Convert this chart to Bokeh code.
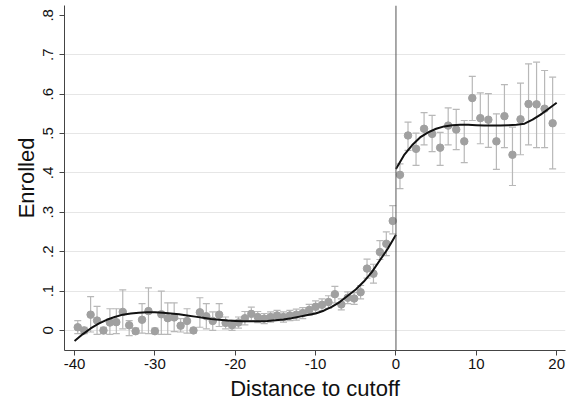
from bokeh.plotting import figure
from bokeh.models import Range1d, FixedTicker, Span, Whisker, TeeHead, ColumnDataSource
from bokeh.embed import file_html
from bokeh.resources import INLINE

# ---- data ----
left_x = [-39.6, -38.8, -38.0, -37.2, -36.4, -35.6, -34.8, -34.0, -33.2, -32.4,
          -31.6, -30.8, -30.0, -29.2, -28.4, -27.6, -26.8, -26.0, -25.2, -24.4,
          -23.6, -22.8, -22.0, -21.2, -20.4, -19.6, -18.8, -18.0, -17.2, -16.4,
          -15.6, -14.8, -14.0, -13.2, -12.4, -11.6, -10.8, -10.0, -9.2, -8.4,
          -7.6, -6.8, -6.0, -5.2, -4.4, -3.6, -2.8, -2.0, -1.2, -0.4]
left_y = [0.008, 0.000, 0.040, 0.025, 0.000, 0.020, 0.021, 0.047, 0.013, -0.002,
          0.027, 0.049, -0.002, 0.041, 0.031, 0.033, 0.012, 0.024, 0.000, 0.046,
          0.036, 0.024, 0.040, 0.019, 0.013, 0.020, 0.031, 0.042, 0.034, 0.030,
          0.034, 0.038, 0.034, 0.038, 0.040, 0.044, 0.052, 0.060, 0.065, 0.072,
          0.092, 0.066, 0.083, 0.081, 0.097, 0.157, 0.144, 0.199, 0.220, 0.278]
left_lo = [-0.008, -0.008, -0.004, -0.010, -0.008, -0.010, -0.008, 0.004, -0.013, -0.008,
           -0.007, -0.008, -0.008, -0.010, -0.010, -0.003, -0.004, -0.007, -0.006, 0.008,
           0.004, 0.000, 0.010, 0.004, 0.000, 0.006, 0.014, 0.025, 0.020, 0.017,
           0.021, 0.025, 0.021, 0.025, 0.026, 0.030, 0.038, 0.045, 0.050, 0.056,
           0.070, 0.052, 0.068, 0.066, 0.080, 0.133, 0.120, 0.180, 0.190, 0.245]
left_hi = [0.025, 0.008, 0.086, 0.061, 0.008, 0.055, 0.055, 0.103, 0.025, 0.006,
           0.068, 0.108, 0.006, 0.100, 0.070, 0.070, 0.030, 0.055, 0.006, 0.083,
           0.068, 0.047, 0.068, 0.034, 0.026, 0.034, 0.048, 0.059, 0.048, 0.043,
           0.047, 0.051, 0.047, 0.051, 0.054, 0.058, 0.066, 0.075, 0.080, 0.088,
           0.112, 0.080, 0.098, 0.096, 0.114, 0.181, 0.168, 0.228, 0.250, 0.317]

right_x = [0.5, 1.5, 2.5, 3.5, 4.5, 5.5, 6.5, 7.5, 8.5, 9.5,
           10.5, 11.5, 12.5, 13.5, 14.5, 15.5, 16.5, 17.5, 18.5, 19.5]
right_y = [0.395, 0.495, 0.461, 0.512, 0.499, 0.464, 0.520, 0.510, 0.480, 0.590,
           0.539, 0.535, 0.480, 0.544, 0.446, 0.536, 0.575, 0.574, 0.563, 0.526]
right_lo = [0.360, 0.457, 0.419, 0.471, 0.454, 0.419, 0.471, 0.459, 0.426, 0.533,
            0.474, 0.465, 0.409, 0.464, 0.368, 0.446, 0.471, 0.464, 0.464, 0.410]
right_hi = [0.423, 0.529, 0.501, 0.553, 0.546, 0.503, 0.565, 0.561, 0.533, 0.645,
            0.603, 0.601, 0.550, 0.624, 0.516, 0.628, 0.677, 0.681, 0.660, 0.643]

fit_left_x = [-40, -39, -38, -37, -36, -35, -34, -33, -32, -31, -30, -29, -28, -27,
              -26, -25, -24, -23, -22, -21, -20, -19, -18, -17, -16, -15, -14, -13,
              -12, -11, -10, -9, -8, -7, -6, -5, -4, -3, -2, -1, 0]
fit_left_y = [-0.027, -0.010, 0.005, 0.017, 0.027, 0.034, 0.040, 0.043, 0.045, 0.046,
              0.046, 0.045, 0.043, 0.041, 0.038, 0.035, 0.032, 0.029, 0.027, 0.025,
              0.024, 0.023, 0.023, 0.023, 0.024, 0.026, 0.028, 0.031, 0.035, 0.039,
              0.043, 0.050, 0.060, 0.072, 0.088, 0.104, 0.124, 0.148, 0.178, 0.208, 0.243]
fit_right_x = [0, 1, 2, 3, 4, 5, 6, 7, 8, 9, 10, 11, 12, 13, 14, 15, 16, 17, 18, 19, 20]
fit_right_y = [0.410, 0.445, 0.470, 0.490, 0.503, 0.512, 0.518, 0.521, 0.522, 0.522,
               0.521, 0.520, 0.520, 0.520, 0.521, 0.522, 0.525, 0.535, 0.548, 0.563, 0.578]

x_ticks = [-40, -30, -20, -10, 0, 10, 20]
x_tick_labels = ["-40", "-30", "-20", "-10", "0", "10", "20"]
y_ticks = [0, 0.1, 0.2, 0.3, 0.4, 0.5, 0.6, 0.7, 0.8]
y_tick_labels = ["0", ".1", ".2", ".3", ".4", ".5", ".6", ".7", ".8"]
y_grid = [0, 0.1, 0.2, 0.3, 0.4, 0.5, 0.6, 0.7]
cutoff = 0

FONT = "Liberation Sans"
PT_COLOR = "#a0a0a0"
BAR_COLOR = "#b8b8b8"

p = figure(width=567, height=406, output_backend="svg", toolbar_location=None,
           x_range=Range1d(-41.25, 21.1), y_range=Range1d(-0.051, 0.825))
p.min_border_left = 64
p.min_border_right = 2
p.min_border_top = 5
p.min_border_bottom = 56
p.outline_line_color = None
p.background_fill_color = "white"
p.border_fill_color = "white"

p.xgrid.visible = False
p.ygrid.ticker = FixedTicker(ticks=y_grid)
p.ygrid.grid_line_color = "#e6e6e6"
p.ygrid.grid_line_width = 1

p.xaxis.ticker = FixedTicker(ticks=x_ticks)
p.xaxis.major_label_overrides = {t: l for t, l in zip(x_ticks, x_tick_labels)}
p.yaxis.ticker = FixedTicker(ticks=y_ticks)
p.yaxis.major_label_overrides = {t: l for t, l in zip(y_ticks, y_tick_labels)}
p.yaxis.major_label_orientation = "vertical"
for ax in (p.xaxis, p.yaxis):
    ax.axis_line_color = "#444444"
    ax.major_tick_line_color = "#444444"
    ax.major_tick_out = 5
    ax.major_tick_in = 0
    ax.minor_tick_line_color = None
    ax.major_label_text_font = FONT
    ax.major_label_text_font_size = "15px"
    ax.major_label_text_color = "#111111"
    ax.axis_label_text_font = FONT
    ax.axis_label_text_font_size = "22px"
    ax.axis_label_text_font_style = "normal"
    ax.axis_label_text_color = "#111111"
p.xaxis.axis_label = "Distance to cutoff"
p.yaxis.axis_label = "Enrolled"
p.xaxis.major_label_standoff = 3
p.xaxis.axis_label_standoff = 4
p.yaxis.major_label_standoff = 6
p.yaxis.axis_label_standoff = 2

for xs, ys, lo, hi in ((left_x, left_y, left_lo, left_hi), (right_x, right_y, right_lo, right_hi)):
    src = ColumnDataSource(dict(x=xs, y=ys, lo=lo, hi=hi))
    w = Whisker(base="x", lower="lo", upper="hi", source=src,
                line_color=BAR_COLOR, line_width=1.2,
                upper_head=TeeHead(size=7, line_color=BAR_COLOR, line_width=1.2),
                lower_head=TeeHead(size=7, line_color=BAR_COLOR, line_width=1.2))
    p.add_layout(w)
    p.scatter("x", "y", source=src, size=7.5, fill_color=PT_COLOR, line_color=PT_COLOR)

p.add_layout(Span(location=cutoff, dimension="height", line_color="#555555", line_width=1))

p.line(fit_left_x, fit_left_y, line_color="#111111", line_width=2)
p.line(fit_right_x, fit_right_y, line_color="#111111", line_width=2)

open("out.html", "w").write(file_html(p, INLINE))
